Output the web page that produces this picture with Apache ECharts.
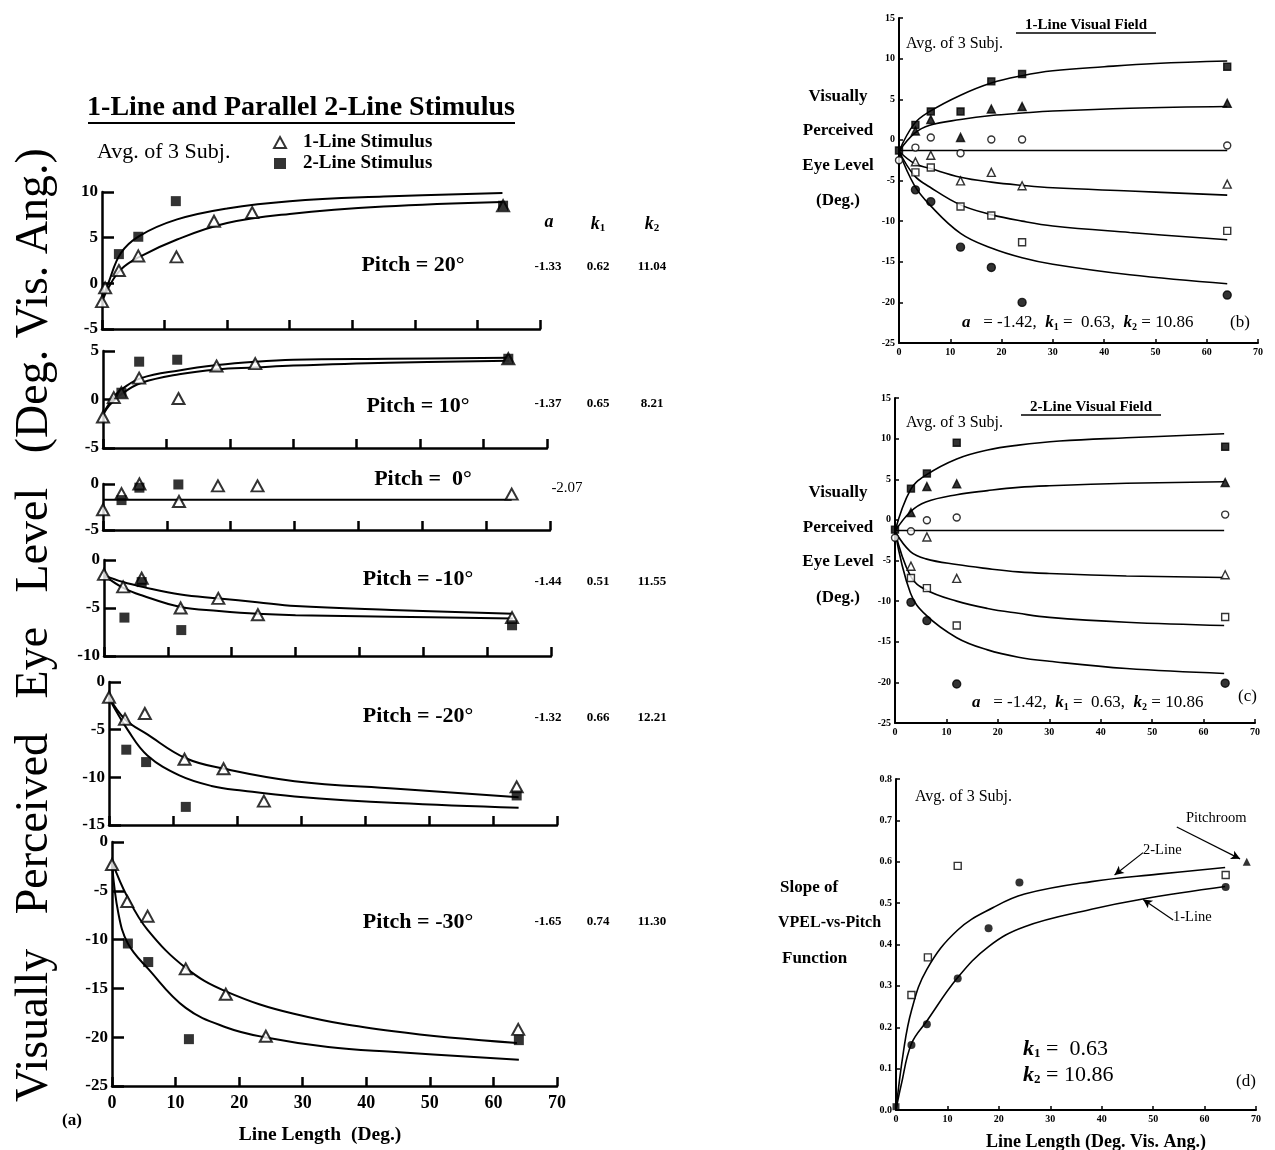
<!DOCTYPE html>
<html>
<head>
<meta charset="utf-8">
<script src="https://cdn.jsdelivr.net/npm/echarts@6/dist/echarts.min.js"></script>
<style>html,body{margin:0;padding:0;background:#fff}#main{width:1275px;height:1150px}</style>
</head>
<body>
<div id="main"></div>
<script>
var chart = echarts.init(document.getElementById('main'));
var serif = 'Liberation Serif';

// ---- panel (a): [line length, VPEL] ----
var p20One = [[0,-2.0],[0.5,-0.5],[2.7,1.4],[5.8,3.0],[11.9,2.9],[17.9,6.8],[24.0,7.75],[64.1,8.5]];
var p20Two = [[2.7,3.2],[5.8,5.1],[11.8,9.0],[64.1,8.5]];
var p20FitTwo = [[0,-1.9],[1,0.0],[3,3.3],[6,5.2],[12,7.0],[20,8.2],[30,9.0],[45,9.5],[64,9.9]];
var p20FitOne = [[0,-2.0],[1,-0.5],[3,1.5],[6,2.9],[12,4.8],[20,6.6],[30,7.6],[45,8.4],[64,8.9]];

var p10One = [[0,-1.8],[1.7,0.2],[2.9,0.7],[5.7,2.2],[11.9,0.1],[17.9,3.45],[24.0,3.7],[63.9,4.2]];
var p10Two = [[2.9,0.7],[5.7,3.9],[11.7,4.1],[63.9,4.2]];
var p10FitTwo = [[0,-1.5],[1,-0.4],[2,0.5],[3,1.1],[6,2.2],[12,3.0],[18,3.55],[24,3.9],[30,4.1],[45,4.2],[64,4.3]];
var p10FitOne = [[0,-1.6],[1,-0.6],[3,0.6],[6,1.7],[12,2.6],[18,3.1],[24,3.3],[30,3.5],[45,3.8],[64,4.0]];

var p0One = [[0,-2.8],[2.9,-1.05],[5.7,0.0],[11.9,-1.9],[18.0,-0.2],[24.2,-0.2],[64,-1.1]];
var p0Two = [[2.9,-1.75],[5.7,-0.4],[11.8,-0.05],[64,0.15]];
var p0Fit = [[0,-1.7],[64,-1.7]];

var pm10One = [[0,-1.5],[3.0,-2.8],[5.9,-1.9],[12.0,-5.0],[17.9,-4.0],[24.1,-5.7],[63.9,-6.0]];
var pm10Two = [[3.2,-6.0],[5.9,-2.3],[12.1,-7.3],[63.9,-6.8]];
var pm10FitOne = [[0,-1.6],[3,-2.3],[6,-2.8],[12,-3.6],[18,-4.0],[24,-4.4],[30,-4.8],[45,-5.2],[64,-5.6]];
var pm10FitTwo = [[0,-1.6],[3,-2.9],[6,-3.7],[12,-4.9],[18,-5.3],[24,-5.6],[30,-5.75],[45,-5.9],[64,-6.1]];

var pm20One = [[0,-1.6],[2.5,-3.9],[5.6,-3.3],[11.8,-8.1],[17.9,-9.1],[24.2,-12.5],[63.7,-11.0]];
var pm20Two = [[2.7,-7.1],[5.8,-8.4],[12.0,-13.1],[63.7,-11.9]];
var pm20FitOne = [[0,-1.6],[2.5,-3.9],[6,-5.5],[12,-8.0],[18,-9.1],[29,-10.4],[45,-11.2],[64,-12.1]];
var pm20FitTwo = [[0,-1.7],[3,-5.1],[6,-7.7],[11,-9.8],[16,-10.9],[21,-11.4],[29,-12.0],[45,-12.7],[64,-13.2]];

var pm30One = [[0,-2.3],[2.4,-6.1],[5.6,-7.6],[11.6,-13.0],[17.9,-15.6],[24.2,-19.9],[63.9,-19.2]];
var pm30Two = [[2.5,-10.4],[5.7,-12.3],[12.1,-20.2],[64,-20.3]];
var pm30FitOne = [[0,-2.0],[2.4,-5.6],[5.6,-9.0],[11.6,-12.9],[17.9,-15.3],[28.6,-17.6],[44.3,-19.4],[63.7,-20.6]];
var pm30FitTwo = [[0,-2.2],[1,-7.3],[2.5,-10.4],[5.7,-13.0],[11.6,-17.0],[18,-19.0],[24,-20.0],[34,-21.0],[44,-21.5],[64,-22.3]];

var pitchLabels = ['Pitch = 20\u00b0', 'Pitch = 10\u00b0', 'Pitch =  0\u00b0', 'Pitch = -10\u00b0', 'Pitch = -20\u00b0', 'Pitch = -30\u00b0'];
var paramA = ['-1.33', '-1.37', '-2.07', '-1.44', '-1.32', '-1.65'];
var paramK1 = ['0.62', '0.65', '', '0.51', '0.66', '0.74'];
var paramK2 = ['11.04', '8.21', '', '11.55', '12.21', '11.30'];

// ---- panel (b): 1-line visual field, pitch 20,10,0,-10,-20,-30 ----
var b20 = [[0,-1.3],[3.2,1.85],[6.2,3.5],[12,3.5],[18,7.2],[24,8.1],[64,9.0]];
var b10 = [[3.2,1.1],[6.2,2.5],[12,0.3],[18,3.8],[24,4.1],[64,4.5]];
var b0 = [[0,-2.5],[3.2,-0.95],[6.2,0.3],[12,-1.65],[18,0.05],[24,0.05],[64,-0.7]];
var bm10 = [[3.2,-2.7],[6.2,-1.9],[12,-5.05],[18,-4.0],[24,-5.65],[64,-5.45]];
var bm20 = [[3.2,-4.0],[6.2,-3.4],[12,-8.2],[18,-9.3],[24,-12.6],[64,-11.2]];
var bm30 = [[3.2,-6.15],[6.2,-7.6],[12,-13.2],[18,-15.7],[24,-20.0],[64,-19.1]];
var bFit20 = [[0,-1.4],[3,2.0],[6,3.5],[12,5.5],[18,7.0],[24,7.9],[30,8.5],[40,9.0],[50,9.4],[64,9.7]];
var bFit10 = [[0,-1.4],[3,0.8],[6,1.8],[12,2.5],[18,3.0],[24,3.3],[30,3.55],[45,3.9],[64,4.1]];
var bFit0 = [[0,-1.3],[64,-1.3]];
var bFitM10 = [[0,-1.4],[3,-2.9],[6,-3.5],[12,-4.6],[18,-5.2],[24,-5.6],[30,-5.9],[45,-6.3],[64,-6.8]];
var bFitM20 = [[0,-1.4],[3,-4.4],[6,-5.8],[12,-8.0],[18,-9.2],[24,-10.0],[30,-10.6],[45,-11.4],[64,-12.3]];
var bFitM30 = [[0,-1.4],[3,-5.6],[6,-8.0],[12,-11.5],[18,-13.3],[24,-14.5],[30,-15.3],[45,-16.6],[64,-17.7]];

// ---- panel (c): 2-line visual field ----
var c20 = [[0,-1.2],[3.1,3.85],[6.2,5.7],[12,9.5],[64.2,9.0]];
var c10 = [[3.1,0.9],[6.2,4.1],[12,4.45],[64.2,4.6]];
var c0 = [[0,-2.2],[3.1,-1.4],[6.2,-0.05],[12,0.3],[64.2,0.65]];
var cm10 = [[3.1,-5.7],[6.2,-2.1],[12,-7.2],[64.2,-6.75]];
var cm20 = [[3.1,-7.15],[6.2,-8.4],[12,-13.0],[64.2,-11.95]];
var cm30 = [[3.1,-10.15],[6.2,-12.4],[12,-20.2],[64.2,-20.1]];
var cFit20 = [[0,-1.4],[3,3.7],[6,5.5],[12,7.5],[18,8.6],[24,9.2],[32,9.7],[45,10.1],[64,10.6]];
var cFit10 = [[0,-1.4],[3,1.0],[6,2.2],[12,3.1],[18,3.6],[24,4.0],[30,4.2],[45,4.5],[64,4.7]];
var cFit0 = [[0,-1.3],[64,-1.3]];
var cFitM10 = [[0,-1.4],[3,-3.9],[6,-4.8],[12,-5.5],[18,-6.0],[24,-6.4],[30,-6.6],[45,-6.9],[64,-7.1]];
var cFitM20 = [[0,-1.4],[3,-6.9],[6,-8.6],[12,-10.0],[18,-10.9],[24,-11.5],[30,-12.0],[45,-12.6],[64,-13.0]];
var cFitM30 = [[0,-1.4],[3,-9.0],[6,-11.7],[12,-14.5],[18,-16.0],[24,-16.9],[30,-17.4],[45,-18.3],[64,-18.9]];

// ---- panel (d): slope of VPEL-vs-pitch ----
var dTwo = [[3.0,0.278],[6.2,0.369],[12.0,0.59],[64.1,0.568]];
var dOne = [[3.0,0.157],[6.0,0.207],[12.0,0.318],[18.0,0.439],[24.0,0.55],[64.1,0.539]];
var dOrigin = [[0,0.008]];
var dRoom = [[68.2,0.60]];
var dFitTwo = [[0,0],[1.4,0.137],[3,0.24],[6,0.34],[12,0.435],[19,0.49],[25,0.522],[38,0.552],[51,0.57],[64,0.586]];
var dFitOne = [[0,0],[1,0.06],[3,0.16],[6,0.215],[12,0.32],[18,0.395],[25,0.443],[38,0.485],[48,0.51],[64,0.54]];
var dArrows = [[[54.6,0.684],[66.9,0.607]], [[48.05,0.622],[42.5,0.568]], [[53.9,0.459],[48.05,0.509]]];

var leftPanels = [
  {one: p20One, two: p20Two, fits: [p20FitTwo, p20FitOne], min: -5, max: 10},
  {one: p10One, two: p10Two, fits: [p10FitTwo, p10FitOne], min: -5, max: 5},
  {one: p0One, two: p0Two, fits: [p0Fit], min: -5, max: 0},
  {one: pm10One, two: pm10Two, fits: [pm10FitOne, pm10FitTwo], min: -10, max: 0},
  {one: pm20One, two: pm20Two, fits: [pm20FitOne, pm20FitTwo], min: -15, max: 0},
  {one: pm30One, two: pm30Two, fits: [pm30FitOne, pm30FitTwo], min: -25, max: 0}
];
var leftBoxes = [
  {left: 102, top: 192, width: 438, height: 137},
  {left: 103, top: 351, width: 444, height: 97},
  {left: 103, top: 484, width: 447, height: 46},
  {left: 104, top: 560, width: 447, height: 96},
  {left: 109, top: 682, width: 448, height: 143},
  {left: 112, top: 842, width: 445, height: 244}
];
var rightBoxes = [
  {left: 899, top: 18, width: 359, height: 325},
  {left: 895, top: 398, width: 360, height: 325},
  {left: 896, top: 779, width: 360, height: 331}
];
var rightStyles = [
  {symbol: 'rect', size: 7, fill: '#000'},
  {symbol: 'triangle', size: 8, fill: '#000'},
  {symbol: 'circle', size: 7, fill: '#fff'},
  {symbol: 'triangle', size: 8, fill: '#fff'},
  {symbol: 'rect', size: 7, fill: '#fff'},
  {symbol: 'circle', size: 8, fill: '#000'}
];

var grid = [], xAxis = [], yAxis = [], series = [];
var black = '#000';

function fitLine(i, data, w) {
  return {type: 'line', xAxisIndex: i, yAxisIndex: i, data: data, symbol: 'none', smooth: 0.4,
    silent: true, lineStyle: {color: black, width: w}, z: 2};
}

leftPanels.forEach(function (p, i) {
  grid.push(leftBoxes[i]);
  xAxis.push({gridIndex: i, type: 'value', min: 0, max: 70, interval: 10,
    axisLine: {onZero: false, lineStyle: {color: black, width: 2.5}},
    axisTick: {inside: true, length: 9, lineStyle: {color: black, width: 2.5}},
    axisLabel: {show: i === 5, color: black, fontFamily: serif, fontWeight: 'bold', fontSize: 18, margin: 8},
    splitLine: {show: false}});
  yAxis.push({gridIndex: i, type: 'value', min: p.min, max: p.max, interval: 5,
    axisLine: {show: true, onZero: false, lineStyle: {color: black, width: 2.5}},
    axisTick: {show: true, inside: true, length: 12, lineStyle: {color: black, width: 2.5}},
    axisLabel: {color: black, fontFamily: serif, fontWeight: 'bold', fontSize: 17, margin: 4},
    splitLine: {show: false}});
  p.fits.forEach(function (f) { series.push(fitLine(i, f, 2)); });
  series.push({type: 'scatter', name: '1-Line Stimulus', xAxisIndex: i, yAxisIndex: i, data: p.one,
    symbol: 'triangle', symbolSize: [12, 11], itemStyle: {color: '#fff', borderColor: black, borderWidth: 2}, z: 3});
  series.push({type: 'scatter', name: '2-Line Stimulus', xAxisIndex: i, yAxisIndex: i, data: p.two,
    symbol: 'rect', symbolSize: 10, itemStyle: {color: black}, z: 4});
});

var rightSets = [
  {min: -25, max: 15, interval: 5, pts: [b20, b10, b0, bm10, bm20, bm30], fits: [bFit20, bFit10, bFit0, bFitM10, bFitM20, bFitM30]},
  {min: -25, max: 15, interval: 5, pts: [c20, c10, c0, cm10, cm20, cm30], fits: [cFit20, cFit10, cFit0, cFitM10, cFitM20, cFitM30]},
  {min: 0, max: 0.8, interval: 0.1, pts: [], fits: [dFitTwo, dFitOne]}
];

rightSets.forEach(function (s, k) {
  var i = 6 + k;
  grid.push(rightBoxes[k]);
  xAxis.push({gridIndex: i, type: 'value', min: 0, max: 70, interval: 10,
    axisLine: {onZero: false, lineStyle: {color: black, width: 2}},
    axisTick: {inside: true, length: 4, lineStyle: {color: black, width: 1.5}},
    axisLabel: {color: black, fontFamily: serif, fontWeight: 'bold', fontSize: 10, margin: 4},
    splitLine: {show: false}});
  yAxis.push({gridIndex: i, type: 'value', min: s.min, max: s.max, interval: s.interval,
    axisLine: {show: true, onZero: false, lineStyle: {color: black, width: 2}},
    axisTick: {show: true, inside: true, length: 4, lineStyle: {color: black, width: 1.5}},
    axisLabel: {color: black, fontFamily: serif, fontWeight: 'bold', fontSize: 10, margin: 4,
      formatter: k === 2 ? function (v) { return v.toFixed(1); } : null},
    splitLine: {show: false}});
  s.fits.forEach(function (f) { series.push(fitLine(i, f, 1.6)); });
  s.pts.forEach(function (d, j) {
    var st = rightStyles[j];
    series.push({type: 'scatter', xAxisIndex: i, yAxisIndex: i, data: d, symbol: st.symbol, symbolSize: st.size,
      itemStyle: {color: st.fill, borderColor: black, borderWidth: 1.4}, z: 3});
  });
});

// panel (d) points
series.push({type: 'scatter', xAxisIndex: 8, yAxisIndex: 8, data: dTwo, symbol: 'rect', symbolSize: 7,
  itemStyle: {color: '#fff', borderColor: black, borderWidth: 1.4}, z: 3});
series.push({type: 'scatter', xAxisIndex: 8, yAxisIndex: 8, data: dOne, symbol: 'circle', symbolSize: 8,
  itemStyle: {color: black}, z: 3});
series.push({type: 'scatter', xAxisIndex: 8, yAxisIndex: 8, data: dOrigin, symbol: 'rect', symbolSize: 7,
  itemStyle: {color: black}, z: 3});
series.push({type: 'scatter', xAxisIndex: 8, yAxisIndex: 8, data: dRoom, symbol: 'triangle', symbolSize: 8,
  itemStyle: {color: black}, z: 3,
  markLine: {silent: true, symbol: ['none', 'arrow'], symbolSize: [7, 9], label: {show: false},
    lineStyle: {color: black, width: 1.2, type: 'solid'},
    data: dArrows.map(function (a) { return [{coord: a[0]}, {coord: a[1]}]; })}});

// ---- text ----
function txt(str, x, y, size, o) {
  o = o || {};
  return {type: 'text', x: x, y: y, rotation: o.rot || 0, silent: true, z: 10,
    style: {text: str, fill: black, textAlign: o.align || 'left', textVerticalAlign: 'middle',
      font: (o.italic ? 'italic ' : '') + (o.bold ? 'bold ' : '') + size + 'px "' + serif + '"',
      rich: o.rich}};
}
function uline(x1, x2, y, w) {
  return {type: 'line', silent: true, shape: {x1: x1, y1: y, x2: x2, y2: y}, style: {stroke: black, lineWidth: w}};
}
function kRich(size) {
  return {
    i: {fontFamily: serif, fontStyle: 'italic', fontWeight: 'bold', fontSize: size},
    s: {fontFamily: serif, fontWeight: 'bold', fontSize: Math.round(size * 0.6), padding: [Math.round(size * 0.45), 0, 0, 0]},
    n: {fontFamily: serif, fontSize: size}
  };
}

var graphic = [];
graphic.push(txt('1-Line and Parallel 2-Line Stimulus', 301, 108, 28, {bold: true, align: 'center'}));
graphic.push(uline(88, 515, 123, 2));
graphic.push(txt('Avg. of 3 Subj.', 97, 152, 22));
graphic.push(txt('{i|a}', 549, 222, 18, {align: 'center', rich: kRich(18)}));
graphic.push(txt('{i|k}{s|1}', 598, 224, 18, {align: 'center', rich: kRich(18)}));
graphic.push(txt('{i|k}{s|2}', 652, 224, 18, {align: 'center', rich: kRich(18)}));
var pitchY = [265, 406, 479, 579, 716, 922];
var pitchX = [413, 418, 423, 418, 418, 418];
var paramY = [267, 404, 488, 582, 718, 922];
pitchLabels.forEach(function (s, i) {
  graphic.push(txt(s, pitchX[i], pitchY[i], 22, {bold: true, align: 'center'}));
  if (paramK1[i]) {
    graphic.push(txt(paramA[i], 548, paramY[i], 13, {bold: true, align: 'center'}));
    graphic.push(txt(paramK1[i], 598, paramY[i], 13, {bold: true, align: 'center'}));
    graphic.push(txt(paramK2[i], 652, paramY[i], 13, {bold: true, align: 'center'}));
  } else {
    graphic.push(txt(paramA[i], 567, paramY[i], 15, {align: 'center'}));
  }
});
graphic.push(txt('(a)', 72, 1121, 17, {bold: true, align: 'center'}));
graphic.push(txt('Line Length  (Deg.)', 320, 1135, 19.5, {bold: true, align: 'center'}));
graphic.push(txt('Visually   Perceived   Eye   Level   (Deg. Vis. Ang.)', 35, 625, 46, {align: 'center', rot: Math.PI / 2}));

var fieldTitles = ['1-Line Visual Field', '2-Line Visual Field'];
var fieldTop = [25, 407];
var avgY = [44, 423];
var sideY = [[97, 131, 166, 201], [493, 528, 562, 598]];
var formulaPos = [[962, 323, 1230, 323, '(b)'], [972, 703, 1238, 697, '(c)']];
[0, 1].forEach(function (k) {
  graphic.push(txt(fieldTitles[k], 1086 + k * 5, fieldTop[k], 15, {bold: true, align: 'center'}));
  graphic.push(uline(1016 + k * 5, 1156 + k * 5, fieldTop[k] + 8, 1.5));
  graphic.push(txt('Avg. of 3 Subj.', 906, avgY[k], 16));
  ['Visually', 'Perceived', 'Eye Level', '(Deg.)'].forEach(function (s, j) {
    graphic.push(txt(s, 838, sideY[k][j], 17, {bold: true, align: 'center'}));
  });
  var f = formulaPos[k];
  graphic.push(txt('{i|a}{n|   = -1.42,  }{i|k}{s|1}{n| =  0.63,  }{i|k}{s|2}{n| = 10.86}', f[0], f[1], 17, {rich: kRich(17)}));
  graphic.push(txt(f[4], f[2], f[3], 17));
});

graphic.push(txt('Avg. of 3 Subj.', 915, 797, 16));
graphic.push(txt('Slope of', 780, 888, 17, {bold: true}));
graphic.push(txt('VPEL-vs-Pitch', 778, 923, 16, {bold: true}));
graphic.push(txt('Function', 782, 959, 17, {bold: true}));
graphic.push(txt('Pitchroom', 1186, 818, 14.5));
graphic.push(txt('2-Line', 1143, 850, 14.5));
graphic.push(txt('1-Line', 1173, 917, 14.5));
graphic.push(txt('{i|k}{s|1}{n| =  0.63}', 1023, 1049, 22, {rich: kRich(22)}));
graphic.push(txt('{i|k}{s|2}{n| = 10.86}', 1023, 1075, 22, {rich: kRich(22)}));
graphic.push(txt('(d)', 1236, 1082, 17));
graphic.push(txt('Line Length (Deg. Vis. Ang.)', 1096, 1142, 18, {bold: true, align: 'center'}));

chart.setOption({
  animation: false,
  backgroundColor: '#fff',
  legend: {
    orient: 'vertical', left: 273, top: 133, itemWidth: 12, itemHeight: 11, itemGap: 2, padding: 0,
    selectedMode: false, data: ['1-Line Stimulus', '2-Line Stimulus'],
    textStyle: {color: black, fontFamily: serif, fontWeight: 'bold', fontSize: 19, padding: [0, 0, 0, 12]}
  },
  grid: grid,
  xAxis: xAxis,
  yAxis: yAxis,
  series: series,
  graphic: graphic
});
</script>
</body>
</html>
